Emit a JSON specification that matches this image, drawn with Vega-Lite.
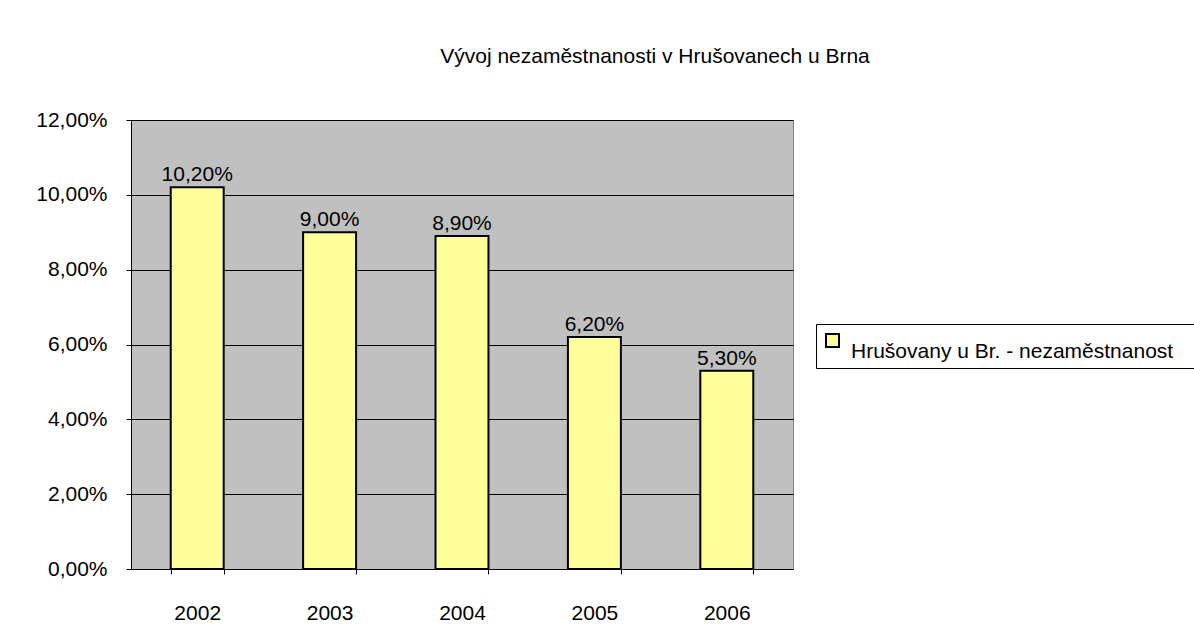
{
  "$schema": "https://vega.github.io/schema/vega-lite/v6.json",
  "autosize": "none",
  "width": 662,
  "height": 449,
  "padding": {"left": 131, "top": 120, "right": 401, "bottom": 68},
  "background": "white",
  "title": {
    "text": "Vývoj nezaměstnanosti v Hrušovanech u Brna",
    "anchor": "middle",
    "frame": "group",
    "dx": 193,
    "baseline": "alphabetic",
    "offset": 25,
    "font": "Liberation Sans",
    "fontSize": 21,
    "fontWeight": "normal",
    "color": "black"
  },
  "data": {
    "values": [
      {"rok": "2002", "hodnota": 0.102, "serie": "Hrušovany u Br. - nezaměstnanost"},
      {"rok": "2003", "hodnota": 0.090, "serie": "Hrušovany u Br. - nezaměstnanost"},
      {"rok": "2004", "hodnota": 0.089, "serie": "Hrušovany u Br. - nezaměstnanost"},
      {"rok": "2005", "hodnota": 0.062, "serie": "Hrušovany u Br. - nezaměstnanost"},
      {"rok": "2006", "hodnota": 0.053, "serie": "Hrušovany u Br. - nezaměstnanost"}
    ]
  },
  "encoding": {
    "x": {
      "field": "rok",
      "type": "ordinal",
      "scale": {"paddingInner": 0.6, "paddingOuter": 0.3},
      "axis": {
        "title": null,
        "labelAngle": 0,
        "labelFont": "Liberation Sans",
        "labelFontSize": 21,
        "labelColor": "black",
        "labelPadding": 28,
        "tickBand": "extent",
        "tickSize": 5,
        "tickColor": "black",
        "domainColor": "black",
        "domainWidth": 1,
        "grid": false
      }
    },
    "y": {
      "field": "hodnota",
      "type": "quantitative",
      "scale": {"domain": [0, 0.12], "nice": false, "zero": true},
      "axis": {
        "title": null,
        "values": [0, 0.02, 0.04, 0.06, 0.08, 0.1, 0.12],
        "format": ".2%",
        "labelFont": "Liberation Sans",
        "labelFontSize": 21,
        "labelColor": "black",
        "labelPadding": 19,
        "tickSize": 5,
        "tickColor": "black",
        "domainColor": "black",
        "domainWidth": 1,
        "grid": true,
        "gridColor": "black",
        "gridWidth": 1,
        "gridOpacity": 1
      }
    }
  },
  "layer": [
    {
      "mark": {"type": "bar", "stroke": "black", "strokeWidth": 2},
      "encoding": {
        "fill": {
          "field": "serie",
          "type": "nominal",
          "scale": {"range": ["#FFFF99"]},
          "legend": {
            "title": null,
            "orient": "none",
            "legendX": 685,
            "legendY": 204,
            "direction": "vertical",
            "strokeColor": "black",
            "fillColor": "white",
            "padding": 6,
            "symbolType": "square",
            "symbolSize": 169,
            "symbolStrokeColor": "black",
            "symbolStrokeWidth": 2,
            "symbolOpacity": 1,
            "labelFont": "Liberation Sans",
            "labelFontSize": 21,
            "labelColor": "black",
            "labelLimit": 0,
            "labelOffset": 8,
            "labelBaseline": "top",
            "labelExpr": "datum.label + '\u2800'"
          }
        }
      }
    },
    {
      "mark": {"type": "text", "dy": -6, "baseline": "alphabetic", "font": "Liberation Sans", "fontSize": 21, "color": "black"},
      "encoding": {
        "text": {"field": "hodnota", "type": "quantitative", "format": ".2%"}
      }
    }
  ],
  "config": {
    "locale": {"number": {"decimal": ",", "thousands": " ", "grouping": [3], "currency": ["", " Kč"]}},
    "view": {"fill": "#C0C0C0", "stroke": "#808080", "strokeWidth": 1},
    "axis": {"labelFont": "Liberation Sans"}
  }
}
